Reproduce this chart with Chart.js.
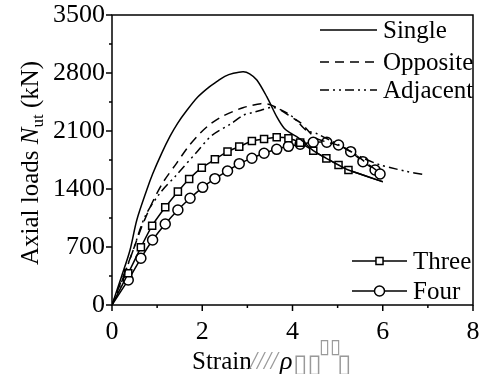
<!DOCTYPE html>
<html>
<head>
<meta charset="utf-8">
<script src="https://cdn.jsdelivr.net/npm/chart.js@4"></script>
<style>
  html, body { margin: 0; padding: 0; background: #fff; }
  #wrap { width: 483px; height: 374px; }
</style>
</head>
<body>
<div id="wrap"><canvas id="chart"></canvas></div>
<script>
// Axial load vs strain curves.
const singleX = [0, 0.21, 0.40, 0.55, 0.77, 0.9, 1.1, 1.29, 1.45, 1.66, 1.9, 2.15, 2.32, 2.5, 2.69, 2.91, 3.05, 3.21, 3.43, 3.65, 3.82, 3.97, 4.1, 4.24, 4.46, 4.75, 5.02, 5.24, 6.0];
const singleY = [0, 342, 664, 1026, 1388, 1580, 1830, 2040, 2190, 2350, 2510, 2630, 2695, 2760, 2797, 2816, 2790, 2716, 2514, 2273, 2130, 2070, 2030, 1971, 1862, 1770, 1690, 1629, 1488];

const oppositeX = [0, 0.2, 0.4, 0.55, 0.69, 0.92, 1.14, 1.43, 1.69, 1.95, 2.17, 2.42, 2.7, 2.9, 3.1, 3.3, 3.45, 3.62, 3.8, 4.0, 4.2, 4.5, 4.8, 5.0, 5.3, 5.6, 5.9];
const oppositeY = [0, 280, 560, 785, 986, 1267, 1488, 1710, 1911, 2072, 2180, 2270, 2340, 2380, 2410, 2430, 2425, 2390, 2330, 2260, 2190, 2020, 1960, 1930, 1850, 1730, 1610];

const adjacentX = [0, 0.2, 0.47, 0.73, 1.06, 1.43, 1.9, 2.2, 2.65, 2.91, 3.1, 3.3, 3.55, 3.8, 4.05, 4.3, 4.55, 5.0, 5.5, 5.94, 6.16, 6.5, 6.9];
const adjacentY = [0, 260, 664, 1066, 1348, 1569, 1860, 2040, 2193, 2290, 2320, 2350, 2385, 2340, 2250, 2110, 2065, 1940, 1790, 1690, 1660, 1615, 1575];

const threeX = [0, 0.36, 0.64, 0.89, 1.18, 1.46, 1.71, 1.99, 2.28, 2.56, 2.82, 3.10, 3.37, 3.65, 3.91, 4.17, 4.46, 4.75, 5.02, 5.24, 6.0];
const threeY = [0, 383, 696, 957, 1179, 1368, 1521, 1657, 1758, 1851, 1911, 1979, 2004, 2024, 2012, 1960, 1862, 1770, 1690, 1629, 1488];

const fourX = [0, 0.36, 0.64, 0.90, 1.18, 1.46, 1.73, 2.01, 2.28, 2.56, 2.82, 3.10, 3.37, 3.65, 3.91, 4.17, 4.46, 4.76, 5.02, 5.29, 5.56, 5.83, 5.94];
const fourY = [0, 302, 564, 785, 978, 1147, 1288, 1420, 1525, 1617, 1706, 1771, 1831, 1879, 1915, 1941, 1964, 1964, 1931, 1851, 1730, 1629, 1581];

const xTicks = [0, 2, 4, 6, 8];
const yTicks = [0, 700, 1400, 2100, 2800, 3500];

const pts = (xs, ys) => xs.map((x, i) => ({ x, y: ys[i] }));
const SERIF = "'Liberation Serif', 'Times New Roman', serif";

// markers on every point except the first (origin) and, for Three, the last
const markerRadius = (skipLast) => (c) => {
  const n = c.dataset.data.length;
  if (c.dataIndex === 0 || (skipLast && c.dataIndex === n - 1)) return 0;
  return 5;
};

const base = { borderColor: '#000', borderWidth: 1.5, backgroundColor: '#fff', tension: 0.3, pointRadius: 0 };

const datasets = [
  { ...base, label: 'Single', data: pts(singleX, singleY), borderDash: [] },
  { ...base, label: 'Opposite', data: pts(oppositeX, oppositeY), borderDash: [9, 6] },
  { ...base, label: 'Adjacent', data: pts(adjacentX, adjacentY), borderDash: [9, 4, 2, 4, 2, 4] },
  { ...base, label: 'Three', data: pts(threeX, threeY), tension: 0.15, pointStyle: 'rect',
    pointRadius: markerRadius(true), pointBorderWidth: 1.5, pointBackgroundColor: '#fff', pointBorderColor: '#000' },
  { ...base, label: 'Four', data: pts(fourX, fourY), tension: 0.15, pointStyle: 'circle',
    pointRadius: markerRadius(false), pointBorderWidth: 1.5, pointBackgroundColor: '#fff', pointBorderColor: '#000' },
];

function drawSeg(ctx, x0, y0, x1, y1) {
  ctx.beginPath(); ctx.moveTo(x0, y0); ctx.lineTo(x1, y1); ctx.stroke();
}

// frame, ticks, axis titles and the two legend groups
const decor = {
  id: 'decor',
  afterDraw(chart) {
    const { ctx, chartArea: a, scales: { x, y } } = chart;
    ctx.save();
    ctx.strokeStyle = '#000';
    ctx.fillStyle = '#000';
    ctx.lineWidth = 1.5;
    ctx.setLineDash([]);
    ctx.strokeRect(a.left, a.top, a.right - a.left, a.bottom - a.top);

    for (let v = 0; v <= 8; v += 1) {
      const px = x.getPixelForValue(v);
      drawSeg(ctx, px, a.bottom, px, a.bottom + (v % 2 ? 3 : 6));
    }
    for (let v = 0; v <= 3500; v += 350) {
      const py = y.getPixelForValue(v);
      drawSeg(ctx, a.left, py, a.left - (v % 700 ? 3 : 6), py);
    }

    // y title: Axial loads N_ut (kN)
    const yParts = [
      { t: 'Axial loads ', f: `25px ${SERIF}`, dy: 0 },
      { t: 'N', f: `italic 25px ${SERIF}`, dy: 0 },
      { t: 'ut', f: `17px ${SERIF}`, dy: 5 },
      { t: ' (kN)', f: `25px ${SERIF}`, dy: 0 },
    ];
    let w = 0;
    for (const p of yParts) { ctx.font = p.f; w += ctx.measureText(p.t).width; }
    ctx.save();
    ctx.translate(38, (a.top + a.bottom) / 2 + 3);
    ctx.rotate(-Math.PI / 2);
    ctx.textBaseline = 'alphabetic';
    let cx = -w / 2;
    for (const p of yParts) {
      ctx.font = p.f;
      ctx.fillText(p.t, cx, p.dy);
      cx += ctx.measureText(p.t).width;
    }
    ctx.restore();

    // x title as printed (with its missing glyphs)
    ctx.textBaseline = 'alphabetic';
    ctx.font = `25px ${SERIF}`;
    ctx.fillText('Strain', 192, 369);
    ctx.fillStyle = '#999';
    ctx.font = `italic 25px ${SERIF}`;
    ctx.fillText('////', 250, 369);
    ctx.fillStyle = '#000';
    ctx.font = `italic 26px ${SERIF}`;
    ctx.fillText('\u03C1', 280, 369);
    ctx.fillStyle = '#999';
    ctx.font = "26px 'DejaVu Sans'";
    ctx.fillText('\u25AF\u25AF', 293, 372);
    ctx.font = "20px 'DejaVu Sans'";
    ctx.fillText('\u25AF\u25AF', 319, 353);
    ctx.font = "26px 'DejaVu Sans'";
    ctx.fillText('\u25AF', 337, 372);
    ctx.fillStyle = '#000';

    // legends
    const groups = [
      { items: [0, 1, 2], x0: 320, x1: 377, tx: 383, ys: [30, 62, 90] },
      { items: [3, 4], x0: 352, x1: 407, tx: 413, ys: [261, 291] },
    ];
    ctx.font = `25px ${SERIF}`;
    ctx.textBaseline = 'middle';
    for (const g of groups) {
      g.items.forEach((di, k) => {
        const ds = chart.data.datasets[di];
        const ly = g.ys[k];
        ctx.lineWidth = 1.5;
        ctx.strokeStyle = '#000';
        ctx.setLineDash(ds.borderDash || []);
        drawSeg(ctx, g.x0, ly, g.x1, ly);
        ctx.setLineDash([]);
        if (ds.pointStyle) {
          ctx.fillStyle = '#fff';
          Chart.helpers.drawPoint(ctx, { pointStyle: ds.pointStyle, radius: 5, borderWidth: 1.5, rotation: 0 },
            (g.x0 + g.x1) / 2, ly);
        }
        ctx.fillStyle = '#000';
        ctx.fillText(ds.label, g.tx, ly + 1);
      });
    }
    ctx.restore();
  },
};

new Chart(document.getElementById('chart'), {
  type: 'line',
  data: { datasets },
  options: {
    responsive: true,
    maintainAspectRatio: false,
    animation: false,
    layout: { padding: { top: 15, right: 10, left: 0, bottom: 0 } },
    plugins: { legend: { display: false }, tooltip: { enabled: false } },
    scales: {
      x: {
        type: 'linear', min: 0, max: 8,
        afterFit: (s) => { s.height = 69; s.paddingLeft = 0; s.paddingRight = 0; },
        afterBuildTicks: (s) => { s.ticks = xTicks.map((v) => ({ value: v })); },
        grid: { display: false, drawTicks: false },
        border: { display: false },
        ticks: { padding: 12, color: '#000', font: { family: SERIF, size: 26 }, maxRotation: 0, autoSkip: false,
          callback: (v) => String(v) },
      },
      y: {
        type: 'linear', min: 0, max: 3500,
        afterFit: (s) => { s.width = 112; s.paddingTop = 0; s.paddingBottom = 0; },
        afterBuildTicks: (s) => { s.ticks = yTicks.map((v) => ({ value: v })); },
        grid: { display: false, drawTicks: false },
        border: { display: false },
        ticks: { padding: 7, color: '#000', font: { family: SERIF, size: 26 }, autoSkip: false,
          callback: (v) => String(v) },
      },
    },
  },
  plugins: [decor],
});
</script>
</body>
</html>
